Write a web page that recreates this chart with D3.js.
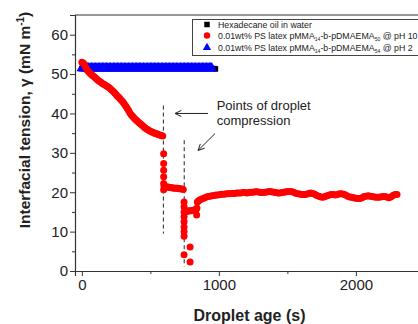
<!DOCTYPE html>
<html><head><meta charset="utf-8">
<script src="https://cdn.jsdelivr.net/npm/d3@7"></script>
<style>body{margin:0;background:#fff}svg{display:block}</style>
</head><body>
<svg id="c" width="418" height="324"></svg>
<script>
// ---- data ----
const xTicks = [0, 1000, 2000];
const xMinor = [500, 1500];
const yTicks = [0, 10, 20, 30, 40, 50, 60];
const yMinor = [5, 15, 25, 35, 45, 55];

// Hexadecane oil in water: [age (s), tension]
const blackData = [[0,51.4],[25,51.4],[50,51.4],[75,51.4],[100,51.4],[125,51.4],[150,51.4],[175,51.4],[200,51.4],[225,51.4],[250,51.4],[275,51.4],[300,51.4],[325,51.4],[350,51.4],[375,51.4],[400,51.4],[425,51.4],[450,51.4],[475,51.4],[500,51.4],[525,51.4],[550,51.4],[575,51.4],[600,51.4],[625,51.4],[650,51.4],[675,51.4],[700,51.4],[725,51.4],[750,51.4],[775,51.4],[800,51.4],[825,51.4],[850,51.4],[875,51.4],[900,51.4],[925,51.4],[950,51.4],[965,51.4],[975,51.3]];

// pH 2 latex: [age (s), tension]
const blueData = [[0,51.5],[10,51.5],[20,51.5],[30,51.5],[40,51.5],[50,51.5],[60,51.5],[70,51.5],[80,51.5],[90,51.5],[100,51.5],[110,51.5],[120,51.5],[130,51.5],[140,51.5],[150,51.5],[160,51.5],[170,51.5],[180,51.5],[190,51.5],[200,51.5],[210,51.5],[220,51.5],[230,51.5],[240,51.5],[250,51.5],[260,51.5],[270,51.5],[280,51.5],[290,51.5],[300,51.5],[310,51.5],[320,51.5],[330,51.5],[340,51.5],[350,51.5],[360,51.5],[370,51.5],[380,51.5],[390,51.5],[400,51.5],[410,51.5],[420,51.5],[430,51.5],[440,51.5],[450,51.5],[460,51.5],[470,51.5],[480,51.5],[490,51.5],[500,51.5],[510,51.5],[520,51.5],[530,51.5],[540,51.5],[550,51.5],[560,51.5],[570,51.5],[580,51.5],[590,51.5],[600,51.5],[610,51.5],[620,51.5],[630,51.5],[640,51.5],[650,51.5],[660,51.5],[670,51.5],[680,51.5],[690,51.5],[700,51.5],[710,51.5],[720,51.5],[730,51.5],[740,51.5],[750,51.5],[760,51.5],[770,51.5],[780,51.5],[790,51.5],[800,51.5],[810,51.5],[820,51.5],[830,51.5],[840,51.5],[850,51.5],[860,51.5],[870,51.5],[880,51.5],[890,51.5],[900,51.5],[910,51.5],[920,51.5],[930,51.5],[940,51.5],[948,51.5]];

// pH 10 latex: [age (s), tension]
const redData = [
  [0,53.0],[10,52.8],[20,52.3],[30,51.6],[40,51.0],[50,50.6],[60,50.2],[70,49.9],[80,49.6],[90,49.3],[100,49.0],[110,48.7],[120,48.4],[130,48.1],[140,47.9],[150,47.6],[160,47.4],[170,47.2],[180,47.0],[190,46.8],[200,46.5],[210,46.2],[220,45.9],[230,45.6],[240,45.2],[250,44.8],[260,44.4],[270,44.1],[280,43.7],[290,43.3],[300,42.9],[310,42.4],[320,41.9],[330,41.4],[340,40.8],[350,40.2],[360,39.7],[370,39.3],[380,38.9],[390,38.5],[400,38.2],[410,37.9],[420,37.6],[430,37.3],[440,37.0],[450,36.7],[460,36.4],[470,36.1],[480,35.9],[490,35.7],[500,35.5],[510,35.3],[520,35.2],[530,35.0],[540,34.9],[550,34.8],[560,34.6],[570,34.5],[580,34.4],[590,34.3],
  [597,29.8],[597,27.3],[597,25.6],[597,23.9],[597,22.2],[597,20.6],
  [600,21.5],[610,21.4],[620,21.3],[630,21.3],[640,21.2],[650,21.2],[660,21.1],[670,21.1],[680,21.0],[690,21.0],[700,21.0],[710,20.9],[720,20.9],[730,20.8],[740,20.7],
  [746,17.5],[746,16.3],[746,15.0],[746,13.8],[746,12.5],[746,11.2],[746,10.0],[746,8.8],[746,4.1],[790,6.1],[790,2.3],
  [752,15.0],[762,15.1],[772,15.2],[782,15.3],[792,15.3],[802,15.3],[812,15.4],[822,15.5],[832,15.4],[838,14.2],[840,16.0],[843,17.5],[850,17.8],
  [860,18.0],[875,18.3],[890,18.5],[905,18.7],[920,18.9],[935,19.0],[950,19.1],[965,19.2],[980,19.3],[995,19.3],[1010,19.4],[1025,19.5],[1040,19.5],[1055,19.6],[1070,19.6],[1085,19.7],[1100,19.7],[1115,19.7],[1130,19.8],[1145,19.8],[1160,19.8],[1175,19.9],[1190,19.9],[1205,19.8],[1220,19.9],[1235,20.0],[1250,20.0],[1265,20.1],[1280,20.1],[1295,20.0],[1310,19.9],[1325,19.9],[1340,20.0],[1355,20.1],[1370,20.2],[1385,20.1],[1400,20.0],[1415,19.9],[1430,19.8],[1445,19.8],[1460,19.9],[1475,20.0],[1490,20.1],[1505,20.2],[1520,20.2],[1535,20.1],[1550,19.9],[1565,19.7],[1580,19.6],[1595,19.5],[1610,19.4],[1625,19.4],[1640,19.5],[1655,19.7],[1670,19.8],[1685,19.7],[1700,19.5],[1715,19.2],[1730,19.0],[1745,18.8],[1760,18.7],[1775,18.9],[1790,19.1],[1805,19.3],[1820,19.4],[1835,19.4],[1850,19.3],[1865,19.4],[1880,19.6],[1895,19.6],[1910,19.5],[1925,19.3],[1940,19.0],[1955,18.8],[1970,18.7],[1985,18.6],[2000,18.5],[2015,18.4],[2030,18.4],[2045,18.6],[2060,18.9],[2075,19.0],[2090,19.1],[2105,19.0],[2120,18.9],[2135,18.8],[2150,18.7],[2165,18.7],[2180,18.8],[2195,18.9],[2210,18.9],[2225,18.8],[2240,18.6],[2255,18.8],[2270,19.2],[2285,19.4],[2300,19.4]];

const legendLabels = [
  ["Hexadecane oil in water"],
  ["0.01wt% PS latex pMMA", "14", "-b-pDMAEMA", "50", " @ pH 10"],
  ["0.01wt% PS latex pMMA", "14", "-b-pDMAEMA", "54", " @ pH 2"]
];
const compressionAges = [595, 747];
const compressionTop = [42, 33.2];
const compressionBottom = [9.5, 1.1];
const annotLines = ["Points of droplet", "compression"];

// ---- chart ----
const svg = d3.select("#c");
const m = {l: 75, t: 15, b: 271, r: 424.4};
const x = d3.scaleLinear().domain([-50, 2500]).range([m.l, m.r]);
const y = d3.scaleLinear().domain([0, 65]).range([m.b, m.t]);
const axisCol = "#333";
const font = "Liberation Sans, Arial, sans-serif";

svg.append("line").attr("x1", m.l).attr("x2", m.r).attr("y1", m.t).attr("y2", m.t)
  .attr("stroke", axisCol).attr("stroke-width", 1.2);

const gx = svg.append("g").attr("transform", `translate(0,${m.b})`)
  .call(d3.axisBottom(x).tickValues(xTicks).tickSize(5).tickPadding(3).tickFormat(d3.format("d")));
const gxm = svg.append("g").attr("transform", `translate(0,${m.b})`)
  .call(d3.axisBottom(x).tickValues(xMinor).tickSize(3).tickFormat(""));
const gy = svg.append("g").attr("transform", `translate(${m.l},0)`)
  .call(d3.axisLeft(y).tickValues(yTicks).tickSize(5).tickPadding(2));
const gym = svg.append("g").attr("transform", `translate(${m.l},0)`)
  .call(d3.axisLeft(y).tickValues(yMinor).tickSize(3).tickFormat(""));
[gx, gxm, gy, gym].forEach(g => {
  g.selectAll("path.domain").attr("stroke", axisCol).attr("stroke-width", 1.2);
  g.selectAll(".tick line").attr("stroke", axisCol).attr("stroke-width", 1);
  g.selectAll(".tick text").attr("font-family", font).attr("font-size", 15).attr("fill", "#222");
});
gxm.select("path.domain").remove();
gym.select("path.domain").remove();

svg.append("text").attr("x", (m.l + 418) / 2 + 3).attr("y", 321)
  .attr("text-anchor", "middle").attr("font-family", font).attr("font-weight", "bold")
  .attr("font-size", 16).attr("fill", "#222").text("Droplet age (s)");
const yt = svg.append("text").attr("transform", "translate(30,120) rotate(-90)")
  .attr("text-anchor", "middle").attr("font-family", font).attr("font-weight", "bold")
  .attr("font-size", 15.5).attr("fill", "#222");
yt.append("tspan").text("Interfacial tension, \u03b3 (mN m");
yt.append("tspan").attr("dy", -6).attr("font-size", 10).text("-1");
yt.append("tspan").attr("dy", 6).text(")");

svg.append("g").selectAll("line").data(compressionAges).join("line")
  .attr("x1", d => x(d)).attr("x2", d => x(d))
  .attr("y1", (d, i) => y(compressionTop[i])).attr("y2", (d, i) => y(compressionBottom[i]))
  .attr("stroke", "#222").attr("stroke-width", 1).attr("stroke-dasharray", "4,3");

svg.append("g").selectAll("path").data(blackData).join("path")
  .attr("transform", d => `translate(${x(d[0])},${y(d[1])})`)
  .attr("d", d3.symbol(d3.symbolSquare, 30)).attr("fill", "#000");
svg.append("g").selectAll("path").data(blueData).join("path")
  .attr("transform", d => `translate(${x(d[0])},${y(d[1])})`)
  .attr("d", d3.symbol(d3.symbolTriangle, 50)).attr("fill", "#0000ff");
svg.append("g").selectAll("circle").data(redData).join("circle")
  .attr("cx", d => x(d[0])).attr("cy", d => y(d[1])).attr("r", 3.5).attr("fill", "#ff0000");

const ann = svg.append("text").attr("font-family", font).attr("font-size", 13).attr("fill", "#222");
annotLines.forEach((t, i) => ann.append("tspan").attr("x", x(984)).attr("y", y(41 - i * 4.05)).text(t));
function arrow(x1, y1, x2, y2) {
  const X1 = x(x1), Y1 = y(y1), X2 = x(x2), Y2 = y(y2);
  const a = Math.atan2(Y1 - Y2, X1 - X2), L = 7, w = 0.45;
  svg.append("path")
    .attr("d", `M${X1},${Y1}L${X2},${Y2}M${X2 + L * Math.cos(a + w)},${Y2 + L * Math.sin(a + w)}L${X2},${Y2}L${X2 + L * Math.cos(a - w)},${Y2 + L * Math.sin(a - w)}`)
    .attr("fill", "none").attr("stroke", "#222").attr("stroke-width", 1);
}
arrow(921, 40, 680, 40);
arrow(972, 34.9, 848, 30.6);

const lg = svg.append("g");
lg.append("rect").attr("x", 192.5).attr("y", 19.5).attr("width", 240).attr("height", 36)
  .attr("fill", "#fff").attr("stroke", "#444").attr("stroke-width", 1);
const rows = [24.5, 35.5, 47.5];
lg.append("path").attr("transform", `translate(207,${rows[0]})`).attr("d", d3.symbol(d3.symbolSquare, 30)).attr("fill", "#000");
lg.append("circle").attr("cx", 207).attr("cy", rows[1]).attr("r", 3.2).attr("fill", "#ff0000");
lg.append("path").attr("transform", `translate(207,${rows[2]})`).attr("d", d3.symbol(d3.symbolTriangle, 30)).attr("fill", "#0000ff");
legendLabels.forEach((parts, i) => {
  const t = lg.append("text").attr("x", 218).attr("y", rows[i] + 3).attr("font-family", font)
    .attr("font-size", 8.8).attr("fill", "#222");
  parts.forEach((p, j) => {
    const sub = j % 2 === 1;
    t.append("tspan").attr("font-size", sub ? 5 : 8.8).attr("dy", sub ? 2.5 : (j > 0 ? -2.5 : 0)).text(p);
  });
});
</script>
</body></html>
